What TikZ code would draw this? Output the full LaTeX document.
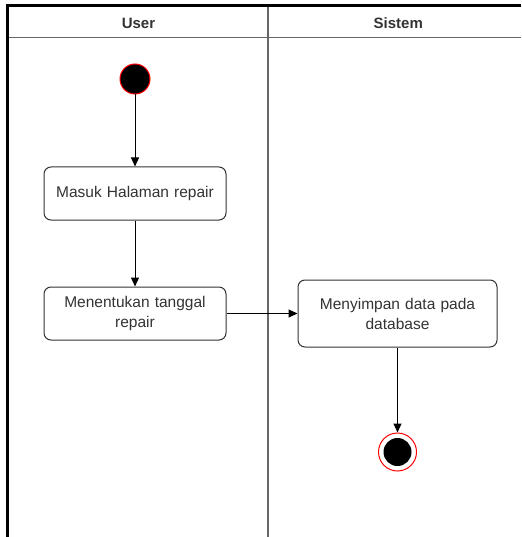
\documentclass[tikz,border=0pt]{standalone}
\usepackage{fontspec}
\setmainfont{Liberation Sans}
\usetikzlibrary{arrows.meta}
\begin{document}
\begin{tikzpicture}[x=1pt,y=-1pt,
  act/.style={draw=black!80, line width=1pt, rounded corners=7pt, fill=white,
    minimum width=182pt, inner sep=0pt, text width=176pt, align=center,
    font=\fontsize{15.5}{20}\selectfont, text=black!80},
  flow/.style={-{Triangle[length=9pt,width=8pt]}, line width=1pt, black},
  lanethin/.style={draw=black!60, line width=1.5pt},
  lanethick/.style={draw=black, line width=3pt},
  head/.style={font=\bfseries\fontsize{15}{16}\selectfont, text=black!80, inner sep=0pt}]
\useasboundingbox (0,0) rectangle (521,537);
% swimlane frame
\draw[lanethin] (7,37.5) -- (521,37.5);
\draw[lanethin] (268,6) -- (268,537);
\draw[lanethick] (5.5,6) -- (521,6);
\draw[lanethick] (7,4.5) -- (7,537);
\node[head] (hUser) at (138.5,23) {User};
\node[head] (hSistem) at (398.3,23) {Sistem};
% nodes
\node[circle, fill=black, draw=red, line width=1pt, minimum size=30pt, inner sep=0pt] (start) at (135,79) {};
\node[act, minimum height=53pt] (a1) at (135,193.5) {Masuk Halaman repair};
\node[act, minimum height=53pt] (a2) at (135,313.5) {Menentukan tanggal\\repair};
\node[act, minimum width=199pt, text width=190pt, minimum height=67pt] (a3) at (397.5,313.5) {Menyimpan data pada\\database};
\node[circle, fill=white, draw=red, line width=1pt, minimum size=38pt, inner sep=0pt] (end) at (397.5,452) {};
\fill[black] (end.center) circle (14pt);
% connectors
\draw[flow] (start) -- (a1);
\draw[flow] (a1) -- (a2);
\draw[flow] (a2) -- (a3);
\draw[flow] (a3) -- (end);
\end{tikzpicture}
\end{document}
